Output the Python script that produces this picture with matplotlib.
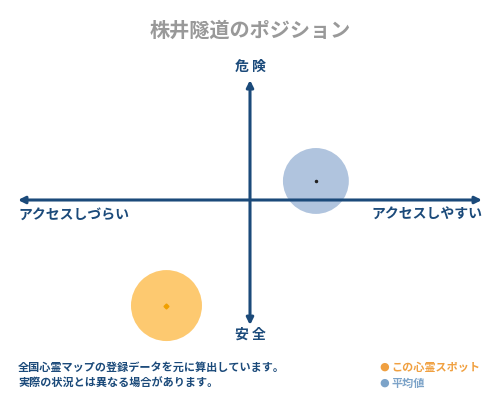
import matplotlib

matplotlib.use("Agg")
import matplotlib.pyplot as plt
from matplotlib.patches import Circle

plt.rcParams["font.family"] = ["Noto Sans CJK JP", "DejaVu Sans"]

# positions on the access (x) / danger (y) plane, axis runs -10..10
SPOT_X, SPOT_Y, SPOT_R = -3.6, -4.55, 1.53
AVG_X, AVG_Y, AVG_R = 2.84, 0.82, 1.42

TITLE = "株井隧道のポジション"
TOP_LABEL = "危 険"
BOTTOM_LABEL = "安 全"
LEFT_LABEL = "アクセスしづらい"
RIGHT_LABEL = "アクセスしやすい"
NOTE_LINES = ["全国心霊マップの登録データを元に算出しています。",
              "実際の状況とは異なる場合があります。"]
LEGEND_LABELS = ["この心霊スポット", "平均値"]

NAVY = "#1b4a7a"
ORANGE_FILL = "#fdc970"
ORANGE = "#f0a040"
BLUE_FILL = "#b0c4de"
BLUE = "#7ca3c8"

PX = 23.2  # pixels per unit

fig = plt.figure(figsize=(5, 4), dpi=100)
ax = fig.add_axes([0, 0, 1, 1])
ax.set_xlim(-250 / PX, 250 / PX)
ax.set_ylim(-200 / PX, 200 / PX)
ax.axis("off")

arrow = dict(arrowstyle="<|-|>", color=NAVY, lw=2.2, mutation_scale=10,
             shrinkA=0, shrinkB=0)
ax.annotate("", xy=(10, 0), xytext=(-10, 0), arrowprops=arrow, zorder=5)
ax.annotate("", xy=(0, 5.17), xytext=(0, -5.39), arrowprops=arrow, zorder=5)

ax.add_patch(Circle((AVG_X, AVG_Y), AVG_R, color=BLUE_FILL, lw=0, zorder=3))
ax.plot(AVG_X, AVG_Y, "o", ms=1.5, color="#222222", zorder=4)
ax.add_patch(Circle((SPOT_X, SPOT_Y), SPOT_R, color=ORANGE_FILL, lw=0, zorder=3))
ax.plot(SPOT_X, SPOT_Y, "D", ms=2.5, color="#f0a000", zorder=4)

fig.text(0.5, 1 - 30 / 400, TITLE, ha="center", va="center", fontsize=14.5,
         color="#999999", fontweight="bold")
fig.text(0.5, 1 - 67 / 400, TOP_LABEL, ha="center", va="center", fontsize=10,
         color=NAVY, fontweight="bold")
fig.text(0.5, 1 - 335 / 400, BOTTOM_LABEL, ha="center", va="center", fontsize=10,
         color=NAVY, fontweight="bold")
fig.text(18 / 500, 1 - 215 / 400, LEFT_LABEL, ha="left", va="center", fontsize=10,
         color=NAVY, fontweight="bold")
fig.text(482 / 500, 1 - 215 / 400, RIGHT_LABEL, ha="right", va="center", fontsize=10,
         color=NAVY, fontweight="bold")

for i, line in enumerate(NOTE_LINES):
    fig.text(18 / 500, 1 - (367 + 16 * i) / 400, line, ha="left", va="center",
             fontsize=8, color=NAVY, fontweight="bold")

for i, (lab, c) in enumerate(zip(LEGEND_LABELS, [ORANGE, BLUE])):
    y = 1 - (367 + 16 * i) / 400
    fig.text(384 / 500, y, "●", ha="center", va="center", fontsize=8, color=c,
             family="DejaVu Sans")
    fig.text(391 / 500, y, lab, ha="left", va="center", fontsize=8, color=c,
             fontweight="bold")

fig.savefig("out.png", dpi=100)
